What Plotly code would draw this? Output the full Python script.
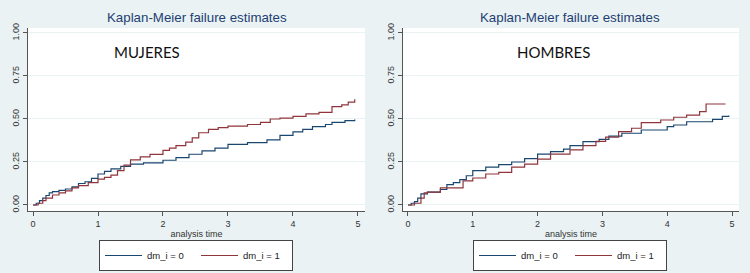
import plotly.graph_objects as go

# ---- Data ----
muj_t0 = [0, 0.05, 0.1, 0.15, 0.2, 0.25, 0.3, 0.4, 0.5, 0.6, 0.7, 0.8, 0.9, 1.0, 1.1, 1.2, 1.35, 1.5, 1.7,
          2.0, 2.2, 2.4, 2.6, 2.8, 3.0, 3.3, 3.6, 3.8, 4.0, 4.15, 4.3, 4.5, 4.6, 4.8, 4.95]
muj_v0 = [0, 0.01, 0.025, 0.04, 0.055, 0.07, 0.078, 0.085, 0.093, 0.105, 0.125, 0.135, 0.155, 0.18, 0.195,
          0.21, 0.225, 0.237, 0.245, 0.26, 0.275, 0.295, 0.314, 0.33, 0.352, 0.362, 0.378, 0.405, 0.425,
          0.44, 0.455, 0.468, 0.48, 0.49, 0.497]
muj_t1 = [0, 0.08, 0.15, 0.2, 0.3, 0.4, 0.5, 0.6, 0.7, 0.85, 1.0, 1.1, 1.2, 1.3, 1.4, 1.5, 1.65, 1.8, 2.0,
          2.1, 2.2, 2.35, 2.45, 2.55, 2.7, 2.85, 3.0, 3.3, 3.5, 3.65, 3.8, 4.0, 4.2, 4.4, 4.6, 4.75, 4.85, 4.95]
muj_v1 = [0, 0.01, 0.025, 0.04, 0.058, 0.07, 0.082, 0.1, 0.112, 0.13, 0.15, 0.16, 0.174, 0.2, 0.232, 0.262,
          0.28, 0.294, 0.318, 0.33, 0.345, 0.365, 0.39, 0.42, 0.44, 0.45, 0.458, 0.468, 0.48, 0.5, 0.505,
          0.515, 0.53, 0.538, 0.572, 0.582, 0.598, 0.615]
hom_t0 = [0, 0.05, 0.1, 0.15, 0.2, 0.3, 0.5, 0.6, 0.7, 0.8, 0.9, 1.0, 1.2, 1.4, 1.6, 1.8, 2.0, 2.2, 2.4,
          2.5, 2.7, 2.95, 3.1, 3.3, 3.6, 4.0, 4.1, 4.3, 4.7, 4.85, 4.95]
hom_v0 = [0, 0.01, 0.02, 0.04, 0.065, 0.075, 0.09, 0.118, 0.13, 0.147, 0.17, 0.2, 0.22, 0.235, 0.25, 0.27,
          0.296, 0.31, 0.325, 0.345, 0.368, 0.382, 0.4, 0.417, 0.436, 0.455, 0.465, 0.484, 0.498, 0.515, 0.52]
hom_t1 = [0, 0.1, 0.2, 0.25, 0.3, 0.5, 0.75, 0.85, 1.0, 1.2, 1.4, 1.6, 1.8, 2.0, 2.2, 2.5, 2.7, 2.9, 3.05,
          3.25, 3.45, 3.6, 3.9, 4.1, 4.3, 4.5, 4.6, 4.9]
hom_v1 = [0, 0.01, 0.04, 0.07, 0.075, 0.1, 0.1, 0.14, 0.157, 0.18, 0.19, 0.22, 0.238, 0.267, 0.296, 0.32,
          0.345, 0.37, 0.395, 0.426, 0.446, 0.479, 0.494, 0.51, 0.523, 0.543, 0.587, 0.587]

x_ticks = [0, 1, 2, 3, 4, 5]
y_ticks = [0, 0.25, 0.5, 0.75, 1.0]
y_labels = ["0.00", "0.25", "0.50", "0.75", "1.00"]
series_names = ["dm_i = 0", "dm_i = 1"]
panel_titles = ["Kaplan-Meier failure estimates", "Kaplan-Meier failure estimates"]
panel_labels = ["MUJERES", "HOMBRES"]

BLUE = "#1a476f"
RED = "#90353b"
BG = "#eaf2f3"
TITLE_C = "#1e3f73"

fig = go.Figure()

panels = [
    (muj_t0, muj_v0, muj_t1, muj_v1, "x", "y", "legend"),
    (hom_t0, hom_v0, hom_t1, hom_v1, "x2", "y2", "legend2"),
]
for (t0, v0, t1, v1, xa, ya, lg) in panels:
    fig.add_trace(go.Scatter(x=t0, y=v0, mode="lines", line=dict(color=BLUE, width=1.2, shape="hv"),
                             name=series_names[0], xaxis=xa, yaxis=ya, legend=lg))
    fig.add_trace(go.Scatter(x=t1, y=v1, mode="lines", line=dict(color=RED, width=1.2, shape="hv"),
                             name=series_names[1], xaxis=xa, yaxis=ya, legend=lg))

ydom = [1 - 211 / 273, 1 - 28 / 273]
xdoms = [[28 / 750, 365 / 750], [403 / 750, 739 / 750]]

axis_common_x = dict(range=[-0.077, 5.108], tickvals=x_ticks, ticks="outside", ticklen=4, tickcolor="#555",
                     showline=True, linecolor="#555", linewidth=1, showgrid=False, zeroline=False,
                     automargin=False,
                     tickfont=dict(size=9, color="#333", family="Liberation Sans"),
                     title=dict(text="analysis time", font=dict(size=9, color="#333", family="Liberation Sans"),
                                standoff=2))
axis_common_y = dict(range=[-0.035, 1.029], tickvals=y_ticks, ticktext=y_labels, ticks="outside", ticklen=4,
                     tickcolor="#555", showline=True, linecolor="#555", linewidth=1, showgrid=True,
                     gridcolor=BG, gridwidth=1, zeroline=False, tickangle=-90, automargin=False,
                     tickfont=dict(size=9, color="#333", family="Liberation Sans"))

leg_common = dict(orientation="h", y=1 - 240 / 273, yanchor="top",
                  bgcolor="white", bordercolor="#444", borderwidth=1, entrywidth=44,
                  itemwidth=37, tracegroupgap=0,
                  font=dict(size=9.5, color="#222", family="Liberation Sans"))

fig.update_layout(
    width=750, height=273, margin=dict(l=0, r=0, t=0, b=0, autoexpand=False),
    paper_bgcolor=BG, plot_bgcolor="white",
    xaxis=dict(domain=xdoms[0], anchor="y", **axis_common_x),
    yaxis=dict(domain=ydom, anchor="x", **axis_common_y),
    xaxis2=dict(domain=xdoms[1], anchor="y2", **axis_common_x),
    yaxis2=dict(domain=ydom, anchor="x2", **axis_common_y),
    legend=dict(x=196 / 750, xanchor="center", **leg_common),
    legend2=dict(x=570 / 750, xanchor="center", **leg_common),
    showlegend=True,
)

annos = []
for cx, title in zip([197, 570], panel_titles):
    annos.append(dict(x=cx / 750, y=1 - 17 / 273, xref="paper", yref="paper", text=title, showarrow=False,
                      xanchor="center", yanchor="middle",
                      font=dict(size=13.3, color=TITLE_C, family="Liberation Sans")))
for cx, lab in zip([147, 553], panel_labels):
    annos.append(dict(x=cx / 750, y=1 - 52 / 273, xref="paper", yref="paper", text=lab, showarrow=False,
                      xanchor="center", yanchor="middle",
                      font=dict(size=15, color="#111", family="Lato")))
fig.update_layout(annotations=annos)

fig.write_html("out.html", config={"displayModeBar": False},
               post_script="document.body.style.margin='0';")
